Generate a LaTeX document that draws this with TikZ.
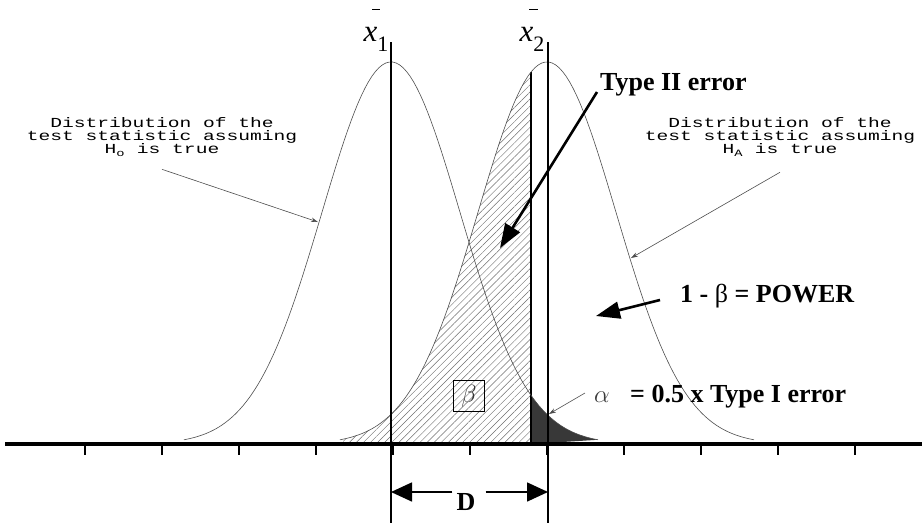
\documentclass[tikz,border=0pt]{standalone}
\usepackage{fontspec}
\setmainfont{Liberation Serif}
\newfontfamily\plotterfont[FakeStretch=1.42]{Liberation Mono}
\usetikzlibrary{arrows.meta, patterns.meta, calc, positioning}
\definecolor{curvegray}{HTML}{4D4D4D}
\definecolor{hatchgray}{HTML}{6E6E6E}
\definecolor{alphagray}{HTML}{3A3A3A}

\begin{document}
\begin{tikzpicture}[x=1pt, y=-1pt,
    curve/.style={curvegray, line width=0.6pt},
    callout/.style={curvegray, line width=0.6pt, -{Stealth[length=7pt,width=4.5pt]}},
    bigarrow/.style={line width=2.6pt, -{Triangle[length=24pt,width=17pt]}},
    darrow/.style={line width=1.6pt, -{Triangle[length=21pt,width=19pt]}},
    boldlabel/.style={font=\fontsize{26}{28}\selectfont\bfseries, inner sep=0pt},
    plotlabel/.style={font=\plotterfont\fontsize{13.8}{13}\selectfont, align=center, inner sep=0pt},
    meanlabel/.style={font=\fontsize{31}{31}\selectfont, inner sep=0pt, anchor=south}]
   \useasboundingbox (0,0) rectangle (922,523);
   % Type II error region (hatched, under H_A curve)
   \fill[pattern={Lines[angle=45,distance=5pt,line width=0.45pt]}, pattern color=hatchgray]
      (343,444) -- plot[domain=-2.95:-0.23, samples=80] ({547+69*\x},{444-382*exp(-0.5*\x*\x)})
      -- (531,444) -- cycle;
   % alpha region (dark, under H_0 curve)
   \fill[black!78] (531,444) -- plot[domain=2.03:3.0, samples=40] ({391+69*\x},{444-382*exp(-0.5*\x*\x)}) -- cycle;
   % Critical value
   \draw[line width=1.2pt] (531,444) -- (531,{444-382*exp(-0.5*0.23*0.23)});
   % Distributions
   \draw[curve] plot[domain=-3.0:3.0, samples=120] ({391+69*\x},{444-382*exp(-0.5*\x*\x)});
   \draw[curve] plot[domain=-3.0:3.0, samples=120] ({547+69*\x},{444-382*exp(-0.5*\x*\x)});
   % Axis and ticks
   \draw[line width=4pt] (5,444) -- (922,444);
   \foreach \t in {85,162,...,855}
      \draw[line width=1.2pt] (\t,444) -- (\t,455);
   % Means
   \coordinate (top1) at (391,42);
   \coordinate (bot1) at (391,523);
   \coordinate (top2) at (548,42);
   \coordinate (bot2) at (548,523);
   \draw[line width=2pt] (top1) -- (bot1);
   \draw[line width=2pt] (top2) -- (bot2);
   \node[meanlabel] (xbar1) at (376,52) {\textit{x}\raisebox{-10pt}{\fontsize{22}{22}\selectfont 1}};
   \node[meanlabel] (xbar2) at (532,52) {\textit{x}\raisebox{-10pt}{\fontsize{22}{22}\selectfont 2}};
   % bars over the means
   \draw[line width=1.6pt] ([xshift=-4pt,yshift=18pt]xbar1.north) -- ++(8,0);
   \draw[line width=1.6pt] ([xshift=-3pt,yshift=18pt]xbar2.north) -- ++(9,0);
   % Distribution labels
   \node[plotlabel] (nulltext) at (162,137) {Distribution of the\\test statistic assuming\\H\textsubscript{o} is true};
   \node[plotlabel] (alttext) at (780,137) {Distribution of the\\test statistic assuming\\H\textsubscript{A} is true};
   \coordinate (nulltip) at (318,222);
   \coordinate (alttip) at (631,258);
   \draw[callout] ([yshift=-13pt]nulltext.south) -- (nulltip);
   \draw[callout] ([yshift=-16pt]alttext.south) -- (alttip);
   % Type II error
   \node[boldlabel, anchor=west] (typeII) at (600,85) {Type II error};
   \coordinate (typeIItip) at (500,248);
   \draw[bigarrow] ([shift={(-3pt,-7pt)}]typeII.west) -- (typeIItip);
   % Power
   \node[boldlabel, anchor=west] (power) at (680,296) {1 - {\mdseries β} = POWER};
   \coordinate (powertip) at (596,316);
   \draw[bigarrow] ([shift={(-20pt,-4pt)}]power.west) -- (powertip);
   % alpha
   \node[text=alphagray, font=\fontsize{28}{28}\selectfont, inner sep=0pt] (alpha) at (602,397) {$\alpha$};
   \node[boldlabel, anchor=west] (typeI) at (630,397) {= 0.5 x Type I error};
   \coordinate (alphatip) at (549,414);
   \draw[callout] ([shift={(-9pt,4pt)}]alpha.west) -- (alphatip);
   % beta
   \node[draw, line width=1.2pt, minimum size=31pt, inner sep=0pt, font=\fontsize{24}{24}\selectfont, text=black!80] (betabox) at (469,396) {$\beta$};
   % D
   \node[boldlabel] (dist) at (466,502) {D};
   \coordinate (dL) at (391,492);
   \coordinate (dR) at (548,492);
   \coordinate (dLin) at ([xshift=-4pt]dist.west);
   \coordinate (dRin) at ([xshift=10pt]dist.east);
   \draw[darrow] (dLin |- dL) -- (dL);
   \draw[darrow] (dRin |- dR) -- (dR);
\end{tikzpicture}
\end{document}
